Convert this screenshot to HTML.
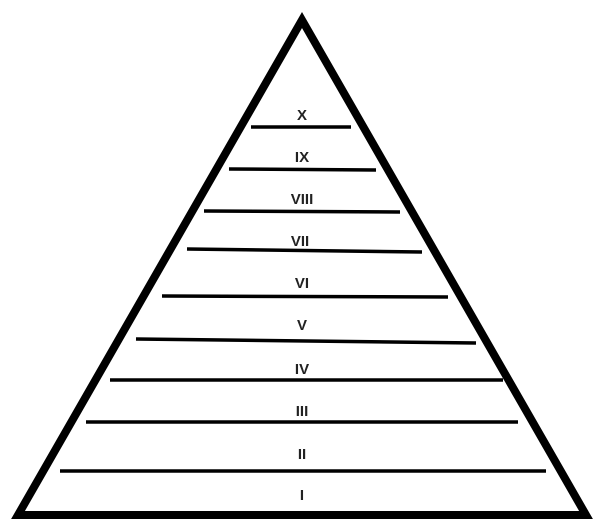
<!DOCTYPE html>
<html><head><style>body{margin:0;background:#fff}svg{display:block}</style></head><body>
<svg width="604" height="526" viewBox="0 0 604 526" xmlns="http://www.w3.org/2000/svg">
<polygon points="302,20 18,515 586,515" fill="#fff" stroke="#000" stroke-width="8" stroke-linejoin="miter"/>
<g stroke="#000" stroke-width="3.5">
<line x1="251" y1="127" x2="351" y2="127"/>
<line x1="229" y1="169" x2="376" y2="170"/>
<line x1="204" y1="211" x2="400" y2="212"/>
<line x1="187" y1="249" x2="422" y2="252"/>
<line x1="162" y1="296" x2="448" y2="297"/>
<line x1="136" y1="339" x2="476" y2="343"/>
<line x1="110" y1="380" x2="503" y2="380"/>
<line x1="86" y1="422" x2="518" y2="422"/>
<line x1="60" y1="471" x2="546" y2="471"/>
</g>
<g font-family="Liberation Sans, sans-serif" font-weight="bold" font-size="15" text-anchor="middle" fill="#222">
<text x="302" y="120">X</text>
<text x="302" y="162">IX</text>
<text x="302" y="204">VIII</text>
<text x="300" y="246">VII</text>
<text x="302" y="288">VI</text>
<text x="302" y="330">V</text>
<text x="302" y="374">IV</text>
<text x="302" y="416">III</text>
<text x="302" y="459">II</text>
<text x="302" y="500">I</text>
</g>
</svg>
</body></html>
